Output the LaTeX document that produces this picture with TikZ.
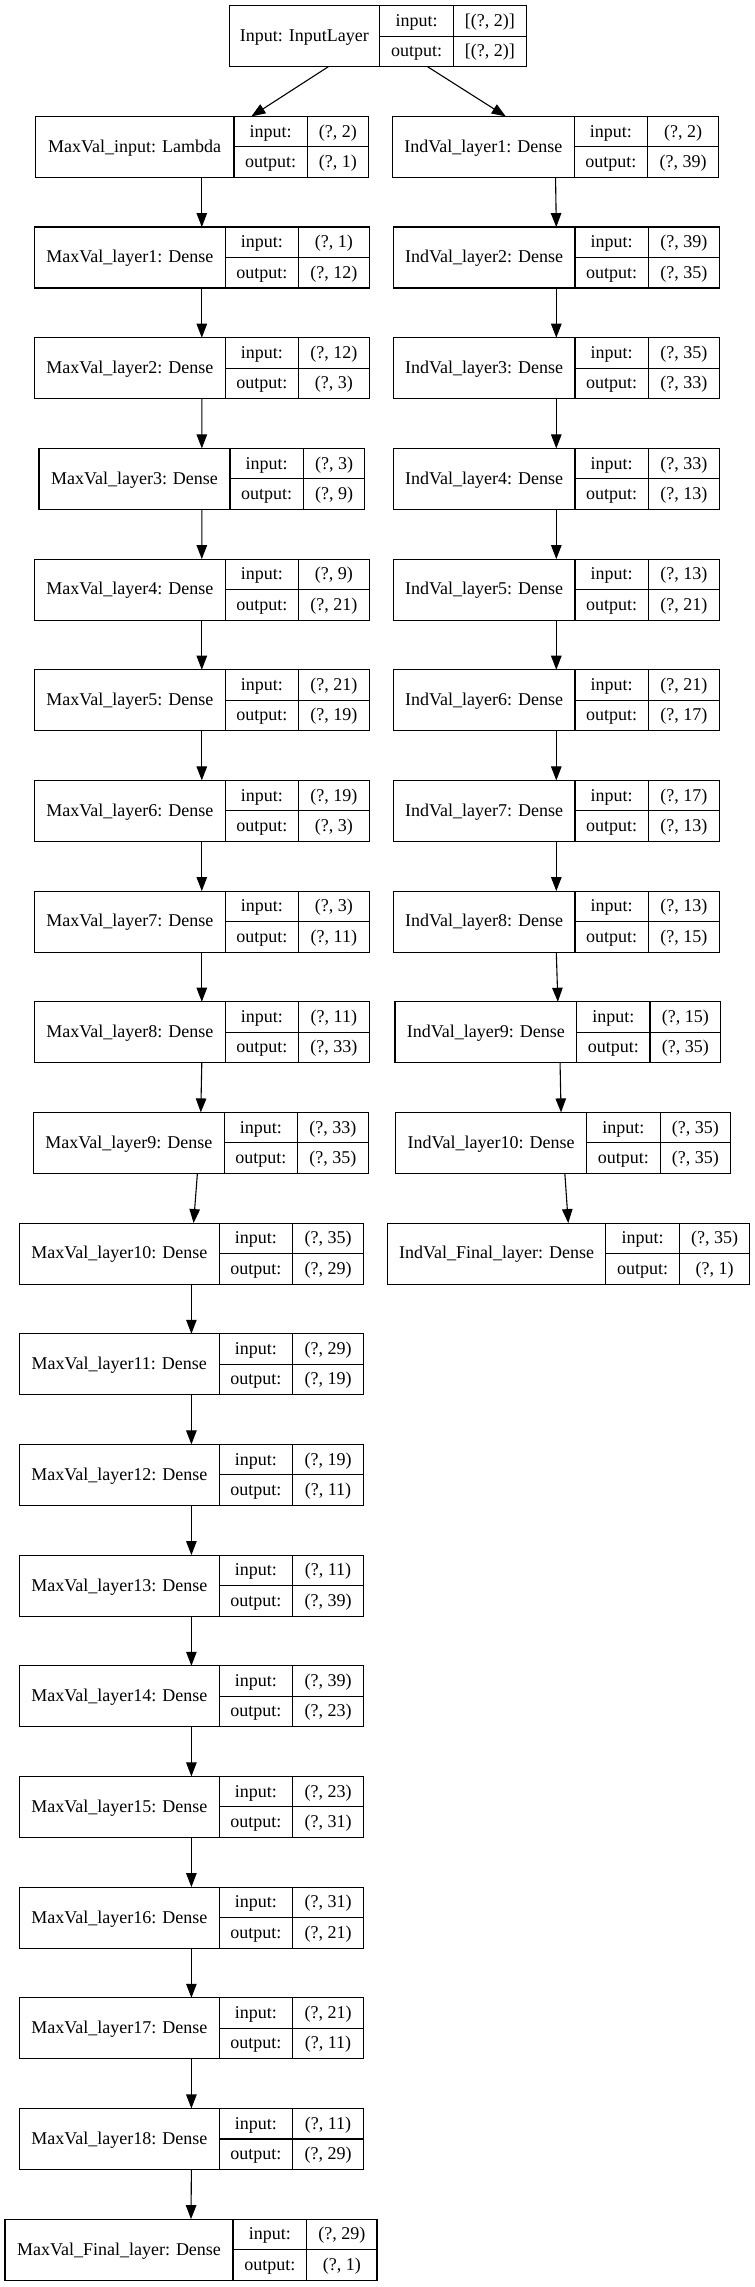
\documentclass[tikz,border=0pt]{standalone}
\usepackage{fontspec}
\setmainfont{Liberation Serif}
\usetikzlibrary{arrows.meta}
\tikzset{
  lyr/.style={draw, line width=1.1pt, inner sep=0pt, outer sep=0pt, anchor=north west, minimum height=61pt},
  sepline/.style={line width=1.1pt},
  txt/.style={inner sep=0pt, text height=13.8pt, text depth=3pt, font=\fontsize{18}{20}\selectfont},
  arr/.style={line width=1.1pt, -{Triangle[length=14pt,width=10.5pt]}}
}
\newcommand{\layerbox}[9]{%
  \pgfmathsetmacro{\ytop}{5.7+110.67*#2}%
  \pgfmathsetmacro{\ymid}{\ytop+30.5}%
  \pgfmathsetmacro{\ybot}{\ytop+61}%
  \node[lyr, minimum width={(#6)-(#3)}] (#1) at (#3,\ytop) {};
  \draw[sepline] (#4,\ytop) -- (#4,\ybot);
  \draw[sepline] (#5,\ytop) -- (#5,\ybot);
  \draw[sepline] (#4,\ymid) -- (#6,\ymid);
  \node[txt] (#1-name) at ({(#3+#4)/2},\ymid) {#7};
  \node[txt] (#1-ik) at ({(#4+#5)/2},{\ytop+15.25}) {input:};
  \node[txt] (#1-ok) at ({(#4+#5)/2},{\ytop+45.75}) {output:};
  \node[txt] (#1-iv) at ({(#5+#6)/2},{\ytop+15.25}) {#8};
  \node[txt] (#1-ov) at ({(#5+#6)/2},{\ytop+45.75}) {#9};
}
\begin{document}
\begin{tikzpicture}[x=1pt,y=-1pt]
\useasboundingbox (0,0) rectangle (755,2287);
\layerbox{inp}{0}{229.2}{379.4}{453.6}{526.3}{Input: InputLayer}{[(?, 2)]}{[(?, 2)]}
\layerbox{mvin}{1}{35.2}{234}{307.2}{368.4}{MaxVal\_input: Lambda}{(?, 2)}{(?, 1)}
\layerbox{iv1}{1}{392.6}{574.2}{647.5}{718.5}{IndVal\_layer1: Dense}{(?, 2)}{(?, 39)}
\layerbox{mv1}{2}{34.4}{225.2}{298.6}{369.2}{MaxVal\_layer1: Dense}{(?, 1)}{(?, 12)}
\layerbox{iv2}{2}{393.3}{575}{648.3}{719.3}{IndVal\_layer2: Dense}{(?, 39)}{(?, 35)}
\layerbox{mv2}{3}{34.4}{225.2}{298.6}{369.2}{MaxVal\_layer2: Dense}{(?, 12)}{(?, 3)}
\layerbox{iv3}{3}{393.3}{575}{648.3}{719.3}{IndVal\_layer3: Dense}{(?, 35)}{(?, 33)}
\layerbox{mv3}{4}{39}{230}{303.3}{364.7}{MaxVal\_layer3: Dense}{(?, 3)}{(?, 9)}
\layerbox{iv4}{4}{393.3}{575}{648.3}{719.3}{IndVal\_layer4: Dense}{(?, 33)}{(?, 13)}
\layerbox{mv4}{5}{34.4}{225.2}{298.6}{369.2}{MaxVal\_layer4: Dense}{(?, 9)}{(?, 21)}
\layerbox{iv5}{5}{393.3}{575}{648.3}{719.3}{IndVal\_layer5: Dense}{(?, 13)}{(?, 21)}
\layerbox{mv5}{6}{34.4}{225.2}{298.6}{369.2}{MaxVal\_layer5: Dense}{(?, 21)}{(?, 19)}
\layerbox{iv6}{6}{393.3}{575}{648.3}{719.3}{IndVal\_layer6: Dense}{(?, 21)}{(?, 17)}
\layerbox{mv6}{7}{34.4}{225.2}{298.6}{369.2}{MaxVal\_layer6: Dense}{(?, 19)}{(?, 3)}
\layerbox{iv7}{7}{393.3}{575}{648.3}{719.3}{IndVal\_layer7: Dense}{(?, 17)}{(?, 13)}
\layerbox{mv7}{8}{34.4}{225.2}{298.6}{369.2}{MaxVal\_layer7: Dense}{(?, 3)}{(?, 11)}
\layerbox{iv8}{8}{393.3}{575}{648.3}{719.3}{IndVal\_layer8: Dense}{(?, 13)}{(?, 15)}
\layerbox{mv8}{9}{34.4}{225.2}{298.6}{369.2}{MaxVal\_layer8: Dense}{(?, 11)}{(?, 33)}
\layerbox{iv9}{9}{395}{576.7}{650}{720.7}{IndVal\_layer9: Dense}{(?, 15)}{(?, 35)}
\layerbox{mv9}{10}{33.4}{224.2}{297.6}{368.2}{MaxVal\_layer9: Dense}{(?, 33)}{(?, 35)}
\layerbox{iv10}{10}{395.8}{586.5}{660.2}{730.5}{IndVal\_layer10: Dense}{(?, 35)}{(?, 35)}
\layerbox{mv10}{11}{19.3}{219.3}{292.6}{363.5}{MaxVal\_layer10: Dense}{(?, 35)}{(?, 29)}
\layerbox{ivf}{11}{387.6}{605.7}{679.4}{749.7}{IndVal\_Final\_layer: Dense}{(?, 35)}{(?, 1)}
\layerbox{mv11}{12}{19.3}{219.3}{292.6}{363.5}{MaxVal\_layer11: Dense}{(?, 29)}{(?, 19)}
\layerbox{mv12}{13}{19.3}{219.3}{292.6}{363.5}{MaxVal\_layer12: Dense}{(?, 19)}{(?, 11)}
\layerbox{mv13}{14}{19.3}{219.3}{292.6}{363.5}{MaxVal\_layer13: Dense}{(?, 11)}{(?, 39)}
\layerbox{mv14}{15}{19.3}{219.3}{292.6}{363.5}{MaxVal\_layer14: Dense}{(?, 39)}{(?, 23)}
\layerbox{mv15}{16}{19.3}{219.3}{292.6}{363.5}{MaxVal\_layer15: Dense}{(?, 23)}{(?, 31)}
\layerbox{mv16}{17}{19.3}{219.3}{292.6}{363.5}{MaxVal\_layer16: Dense}{(?, 31)}{(?, 21)}
\layerbox{mv17}{18}{19.3}{219.3}{292.6}{363.5}{MaxVal\_layer17: Dense}{(?, 21)}{(?, 11)}
\layerbox{mv18}{19}{19.3}{219.3}{292.6}{363.5}{MaxVal\_layer18: Dense}{(?, 11)}{(?, 29)}
\layerbox{mvf}{20}{5}{233}{306.7}{377}{MaxVal\_Final\_layer: Dense}{(?, 29)}{(?, 1)}
% connectors
\draw[arr] ([xshift=-49.4pt]inp.south) -- ([xshift=49.6pt]mvin.north);
\draw[arr] ([xshift=49.8pt]inp.south) -- ([xshift=-49.8pt]iv1.north);
\draw[arr] (mvin.south) -- (mv1.north);
\foreach \a/\b in {mv1/mv2,mv2/mv3,mv3/mv4,mv4/mv5,mv5/mv6,mv6/mv7,mv7/mv8,mv8/mv9,
  mv10/mv11,mv11/mv12,mv12/mv13,mv13/mv14,mv14/mv15,mv15/mv16,mv16/mv17,mv17/mv18,mv18/mvf,
  iv1/iv2,iv2/iv3,iv3/iv4,iv4/iv5,iv5/iv6,iv6/iv7,iv7/iv8,iv8/iv9}
  \draw[arr] (\a.south) -- (\b.north);
\draw[arr] ([xshift=-3.4pt]mv9.south) -- ([xshift=2.2pt]mv10.north);
\draw[arr] ([xshift=2.2pt]iv9.south) -- ([xshift=-2.1pt]iv10.north);
\draw[arr] ([xshift=1.7pt]iv10.south) -- ([xshift=-0.4pt]ivf.north);
\end{tikzpicture}
\end{document}
